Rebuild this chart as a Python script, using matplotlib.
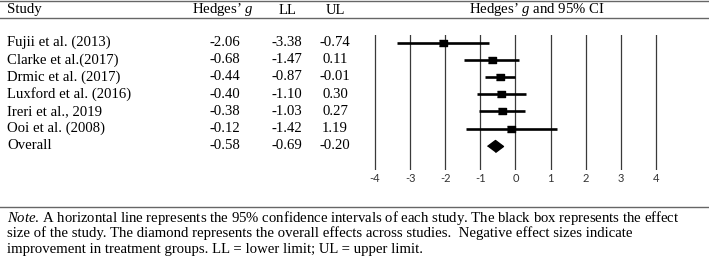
import matplotlib
matplotlib.use("Agg")
import matplotlib.pyplot as plt
from matplotlib.lines import Line2D
from matplotlib.transforms import blended_transform_factory

plt.rcParams['font.family'] = ['Liberation Serif', 'DejaVu Serif']
plt.rcParams['mathtext.fontset'] = 'custom'
plt.rcParams['mathtext.rm'] = 'Liberation Serif'
plt.rcParams['mathtext.it'] = 'Liberation Serif:italic'

# data
studies = ["Fujii et al. (2013)", "Clarke et al.(2017)", "Drmic et al. (2017)",
           "Luxford et al. (2016)", "Ireri et al., 2019", "Ooi et al. (2008)", "Overall"]
hedges_g = [-2.06, -0.68, -0.44, -0.40, -0.38, -0.12, -0.58]
lower = [-3.38, -1.47, -0.87, -1.10, -1.03, -1.42, -0.69]
upper = [-0.74, 0.11, -0.01, 0.30, 0.27, 1.19, -0.20]
xticks = [-4, -3, -2, -1, 0, 1, 2, 3, 4]
note_lines = [
    r"$Note$. A horizontal line represents the 95% confidence intervals of each study. The black box represents the effect",
    "size of the study. The diamond represents the overall effects across studies.  Negative effect sizes indicate",
    "improvement in treatment groups. LL = lower limit; UL = upper limit.",
]

W, H = 709, 260
fig = plt.figure(figsize=(W / 100, H / 100), dpi=100)

def fx(px):
    return px / W

def fy(py):
    return 1 - py / H

# forest plot axes
ax = fig.add_axes([fx(357.4), fy(170), fx(316), 135 / H])
ax.set_xlim(-4.5, 4.5)
ax.set_ylim(7.41, -0.44)
for t in xticks:
    ax.axvline(t, color='#3a3a3a', lw=0.9)

rows = list(range(len(studies)))
n = len(studies) - 1
for i in rows[:n]:
    ax.plot([lower[i], upper[i]], [i, i], color='black', lw=1.9, solid_capstyle='butt')
    ax.plot(hedges_g[i], i, marker=[(-1, -0.75), (1, -0.75), (1, 0.75), (-1, 0.75)],
            markersize=5.3, color='black', linestyle='none')
ax.plot(hedges_g[n], n, marker=[(-1, 0), (0, 0.75), (1, 0), (0, -0.75)],
        markersize=11.5, color='black', linestyle='none')

ax.set_xticks(xticks)
ax.set_xticklabels([str(t) for t in xticks], family='Lato', fontsize=8, color='#333333')
ax.tick_params(axis='x', length=0, pad=2.5)
ax.set_yticks([])
for s in ax.spines.values():
    s.set_visible(False)
ax.patch.set_visible(False)

# table text
fs = 10.6
trans = blended_transform_factory(fig.transFigure, ax.transData)
for i, name in enumerate(studies):
    fig.text(fx(7), i, name, transform=trans, ha='left', va='center', fontsize=fs)
    fig.text(fx(225), i, f"{hedges_g[i]:.2f}", transform=trans, ha='center', va='center', fontsize=fs)
    fig.text(fx(287), i, f"{lower[i]:.2f}", transform=trans, ha='center', va='center', fontsize=fs)
    fig.text(fx(335), i, f"{upper[i]:.2f}", transform=trans, ha='center', va='center', fontsize=fs)

# header
fig.text(fx(7), fy(10), "Study", ha='left', va='center', fontsize=fs)
fig.text(fx(223), fy(10), "Hedges\u2019 $g$", ha='center', va='center', fontsize=fs)
fig.text(fx(288), fy(10), "LL", ha='center', va='center', fontsize=fs)
fig.text(fx(335), fy(10), "UL", ha='center', va='center', fontsize=fs)
fig.text(fx(537), fy(10), "Hedges\u2019 $g$ and 95% CI", ha='center', va='center', fontsize=fs)

# rules
for py in [1, 18, 207]:
    fig.add_artist(Line2D([0, 1], [fy(py), fy(py)], color='#666666', lw=1.0, transform=fig.transFigure))

# note
for k, line in enumerate(note_lines):
    fig.text(fx(7), fy(218 + 15.5 * k), line, ha='left', va='center', fontsize=fs)

fig.savefig("out.png", dpi=100)
